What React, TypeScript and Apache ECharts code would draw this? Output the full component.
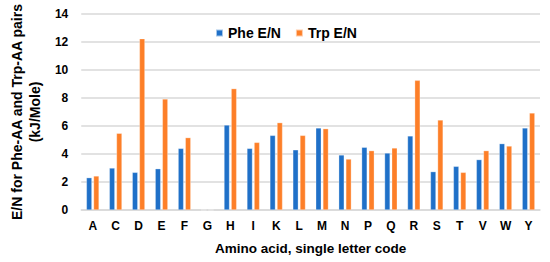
import React, { useEffect, useRef } from "react";
import * as echarts from "echarts";

const categories = ["A", "C", "D", "E", "F", "G", "H", "I", "K", "L", "M", "N", "P", "Q", "R", "S", "T", "V", "W", "Y"];
const pheValues = [2.31, 3.0, 2.69, 2.95, 4.4, 0, 6.07, 4.4, 5.33, 4.3, 5.86, 3.93, 4.48, 4.07, 5.29, 2.74, 3.12, 3.6, 4.74, 5.86];
const trpValues = [2.43, 5.48, 12.24, 7.93, 5.17, 0, 8.67, 4.83, 6.24, 5.33, 5.81, 3.64, 4.24, 4.43, 9.26, 6.43, 2.69, 4.24, 4.57, 6.93];
const yTicks = { min: 0, max: 14, interval: 2 };

export default function App() {
  const ref = useRef<HTMLDivElement>(null);
  useEffect(() => {
    if (!ref.current) return;
    const chart = echarts.init(ref.current, null, { renderer: "svg" });
    const font = "Liberation Sans, Arial, sans-serif";
    chart.setOption({
      animation: false,
      textStyle: { fontFamily: font },
      grid: { left: 68, right: 10, top: 14, bottom: 52 },
      legend: {
        left: 215,
        top: 26,
        padding: 0,
        itemWidth: 7,
        itemHeight: 7,
        itemGap: 14,
        icon: "rect",
        textStyle: { fontFamily: font, fontWeight: "bold", fontSize: 14, color: "#000" },
        data: ["Phe E/N", "Trp E/N"],
      },
      xAxis: {
        type: "category",
        data: categories,
        name: "Amino acid, single letter code",
        nameLocation: "middle",
        nameGap: 31,
        nameTextStyle: { fontFamily: font, fontWeight: "bold", fontSize: 13.5, color: "#000" },
        axisLine: { show: true, lineStyle: { color: "#d9d9d9", width: 1.5 } },
        axisTick: { show: false },
        axisLabel: { fontFamily: font, fontWeight: "bold", fontSize: 12, color: "#000", margin: 10 },
      },
      yAxis: {
        type: "value",
        min: yTicks.min,
        max: yTicks.max,
        interval: yTicks.interval,
        name: "E/N for Phe-AA and Trp-AA pairs\n(kJ/Mole)",
        nameLocation: "middle",
        nameGap: 28,
        nameTextStyle: { fontFamily: font, fontWeight: "bold", fontSize: 14, color: "#000", lineHeight: 18 },
        axisLine: { show: false },
        axisTick: { show: false },
        axisLabel: { fontFamily: font, fontWeight: "bold", fontSize: 12, color: "#000", margin: 13 },
        splitLine: { lineStyle: { color: "#d9d9d9", width: 1.5 } },
      },
      series: [
        {
          name: "Phe E/N",
          type: "bar",
          data: pheValues,
          barWidth: 5.5,
          barGap: "30%",
          itemStyle: { color: "#1f70c8", borderColor: "rgba(255,255,255,0.6)", borderWidth: 0.5 },
        },
        {
          name: "Trp E/N",
          type: "bar",
          data: trpValues,
          barWidth: 5.5,
          itemStyle: { color: "#fd7f28", borderColor: "rgba(255,255,255,0.6)", borderWidth: 0.5 },
        },
      ],
    });
    return () => chart.dispose();
  }, []);
  return <div ref={ref} style={{ position: "absolute", left: 0, top: 0, width: 550, height: 262 }} />;
}
